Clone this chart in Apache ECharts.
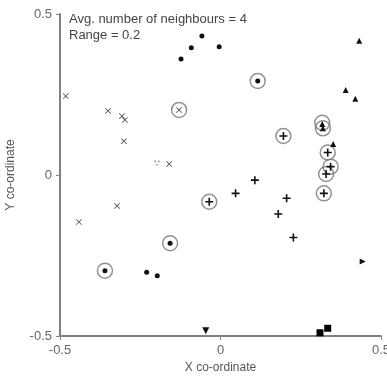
<!DOCTYPE html>
<html><head><meta charset="utf-8">
<script src="https://cdn.jsdelivr.net/npm/echarts@6/dist/echarts.min.js"></script>
<style>html,body{margin:0;padding:0;background:#fff}#c{width:387px;height:376px}</style>
</head><body><div id="c"></div>
<script>
// Data
const crossPts = [[-0.482,0.245],[-0.350,0.199],[-0.307,0.183],[-0.298,0.171],[-0.301,0.105],[-0.160,0.034],[-0.441,-0.146],[-0.322,-0.096],[-0.129,0.202]];
const faintDotPts = [[-0.198,0.037]];
const dotPts = [[-0.123,0.360],[-0.091,0.395],[-0.058,0.432],[-0.004,0.398],[0.116,0.292],[-0.157,-0.212],[-0.360,-0.297],[-0.230,-0.302],[-0.197,-0.313]];
const triUpPts = [[0.432,0.417],[0.390,0.264],[0.420,0.237],[0.351,0.096],[0.317,0.158],[0.319,0.145]];
const plusPts = [[0.196,0.121],[0.334,0.070],[0.343,0.026],[0.329,0.003],[0.322,-0.057],[0.107,-0.016],[0.047,-0.057],[-0.035,-0.083],[0.206,-0.072],[0.180,-0.121],[0.227,-0.194]];
const triRightPts = [[0.443,-0.269]];
const triDownPts = [[-0.046,-0.484]];
const squarePts = [[0.310,-0.490],[0.334,-0.476]];
const centrePts = [[-0.129,0.202],[0.116,0.292],[0.317,0.162],[0.319,0.145],[0.196,0.121],[0.334,0.070],[0.343,0.026],[0.329,0.003],[0.322,-0.057],[-0.035,-0.083],[-0.157,-0.212],[-0.360,-0.297]];
const axisTicks = [-0.5, 0, 0.5];
const noteLines = ['Avg. number of neighbours = 4', 'Range = 0.2'];

const PLUS = 'path://M4,0H6V4H10V6H6V10H4V6H0V4H4Z';
const CROSS = 'path://M0,1L1,0L5,4L9,0L10,1L6,5L10,9L9,10L5,6L1,10L0,9L4,5Z';
const font = 'Liberation Sans, Arial, sans-serif';

const chart = echarts.init(document.getElementById('c'), null, {renderer:'canvas'});
const axisCommon = {
  min: axisTicks[0], max: axisTicks[axisTicks.length-1], interval: 0.5,
  splitLine:{show:false},
  axisLine:{onZero:false, lineStyle:{color:'#808080', width:2}},
  axisTick:{length:4, lineStyle:{color:'#808080', width:1}},
  axisLabel:{color:'#666', fontSize:13, fontFamily:font},
  nameLocation:'middle',
  nameTextStyle:{color:'#555', fontSize:12, fontFamily:font}
};
function sc(data, symbol, size, color, extra){
  return Object.assign({type:'scatter', data, symbol, symbolSize:size, itemStyle:{color, opacity:1}, silent:true, z:3}, extra||{});
}
chart.setOption({
  animation:false,
  grid:{left:60, right:6, top:14, bottom:40, containLabel:false, outerBoundsMode:'none'},
  xAxis:Object.assign({}, axisCommon, {type:'value', name:'X co-ordinate', nameGap:18}),
  yAxis:Object.assign({}, axisCommon, {type:'value', name:'Y co-ordinate', nameGap:43}),
  graphic:noteLines.map((t,i)=>({type:'text', left:69, top:13+i*16, style:{text:t, fill:'#444', font:'13px '+font}})),
  series:[
    sc(centrePts, 'circle', 15, 'transparent', {itemStyle:{color:'rgba(0,0,0,0)', borderColor:'#777', borderWidth:1.5}, z:2}),
    sc(crossPts, CROSS, 6, '#555'),
    sc(faintDotPts, 'path://M0,0H2V2H0ZM5,0H7V2H5ZM2,4H4V6H2Z', 5, '#888'),
    sc(dotPts, 'circle', 5, '#111'),
    sc(triUpPts, 'triangle', 6, '#111'),
    sc(plusPts, PLUS, 8, '#111'),
    sc(triRightPts, 'triangle', 6, '#111', {symbolRotate:-90}),
    sc(triDownPts, 'triangle', 7, '#111', {symbolRotate:180}),
    sc(squarePts, 'rect', 7, '#000')
  ]
});
</script></body></html>
